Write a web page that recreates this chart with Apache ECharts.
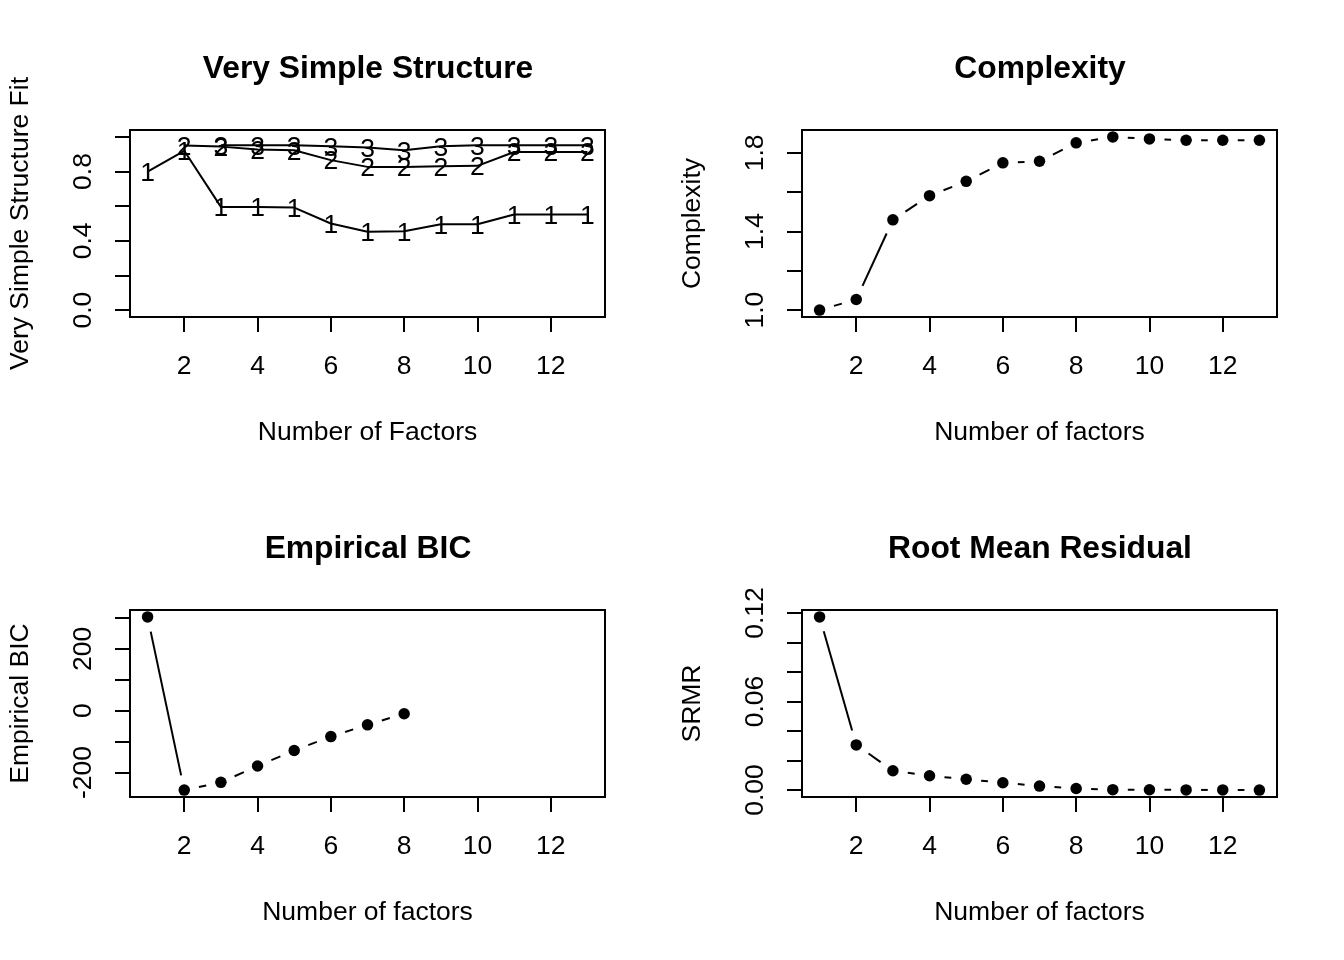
<!DOCTYPE html>
<html>
<head>
<meta charset="utf-8">
<script src="https://cdn.jsdelivr.net/npm/echarts@6/dist/echarts.min.js"></script>
<style>
  body { margin: 0; background: #fff; }
  #chart { width: 1344px; height: 960px; }
</style>
</head>
<body>
<div id="chart"></div>
<script>
// number of factors
var factors = [1, 2, 3, 4, 5, 6, 7, 8, 9, 10, 11, 12, 13];
var xTicks = [2, 4, 6, 8, 10, 12];

// very simple structure fit, complexity 1..3
var vss1 = [0.80, 0.92, 0.596, 0.596, 0.592, 0.50, 0.452, 0.455, 0.496, 0.496, 0.552, 0.552, 0.552];
var vss2 = [null, 0.95, 0.944, 0.927, 0.923, 0.866, 0.827, 0.827, 0.831, 0.833, 0.913, 0.913, 0.913];
var vss3 = [null, null, 0.952, 0.952, 0.952, 0.946, 0.939, 0.923, 0.946, 0.952, 0.952, 0.952, 0.952];
var vssTicks = [0, 0.2, 0.4, 0.6, 0.8, 1.0];
var vssLabels = [0, 0.4, 0.8];

// complexity
var complexity = [1.0, 1.054, 1.459, 1.582, 1.655, 1.749, 1.757, 1.851, 1.881, 1.871, 1.864, 1.864, 1.864];
var cxTicks = [1.0, 1.2, 1.4, 1.6, 1.8];
var cxLabels = [1.0, 1.4, 1.8];

// empirical BIC (only 8 factors)
var ebic = [303, -257, -232, -179, -129, -84, -46, -10];
var bicTicks = [-200, -100, 0, 100, 200, 300];
var bicLabels = [-200, 0, 200];

// root mean residual
var srmr = [0.1173, 0.0306, 0.0131, 0.0097, 0.0073, 0.0050, 0.0027, 0.0011, 0.0003, 0.0002, 0.0001, 0.0001, 0.0000];
var srmrTicks = [0, 0.02, 0.04, 0.06, 0.08, 0.10, 0.12];
var srmrLabels = [0, 0.06, 0.12];

var FONT = 'Liberation Sans, Arial, Helvetica, sans-serif';
var FS = 26.5;

// R style 4% padding of the data range
function pad(lo, hi) {
    var d = (hi - lo) * 0.04;
    return [lo - d, hi + d];
}
function rng(arr) {
    var v = arr.filter(function (a) { return a != null; });
    return pad(Math.min.apply(null, v), Math.max.apply(null, v));
}

var xr = pad(1, 13);
var grids = [
    { left: 130, top: 130 },
    { left: 802, top: 130 },
    { left: 130, top: 610 },
    { left: 802, top: 610 }
];

function xAxisFor(i, name) {
    return {
        type: 'value', gridIndex: i, min: xr[0], max: xr[1],
        name: name, nameLocation: 'middle', nameGap: 102,
        nameTextStyle: { fontFamily: FONT, fontSize: FS, color: '#000' },
        axisLine: { show: true, onZero: false, lineStyle: { color: '#000', width: 2 } },
        axisTick: { show: true, length: 15, customValues: xTicks, lineStyle: { color: '#000', width: 2 } },
        axisLabel: { customValues: xTicks, margin: 36, fontFamily: FONT, fontSize: FS, color: '#000' },
        splitLine: { show: false }
    };
}
function yAxisFor(i, name, r, ticks, labels, dig) {
    return {
        type: 'value', gridIndex: i, min: r[0], max: r[1],
        name: name, nameLocation: 'middle', nameGap: 96,
        nameTextStyle: { fontFamily: FONT, fontSize: FS, color: '#000' },
        axisLine: { show: true, onZero: false, lineStyle: { color: '#000', width: 2 } },
        axisTick: { show: true, length: 15, customValues: ticks, lineStyle: { color: '#000', width: 2 } },
        axisLabel: {
            customValues: labels, rotate: 90, margin: 33,
            fontFamily: FONT, fontSize: FS, color: '#000',
            formatter: function (v) { return dig == null ? String(Math.round(v)) : v.toFixed(dig); }
        },
        splitLine: { show: false }
    };
}

// segments with gaps at the points, like R type = "b"
function segData(ys) {
    var out = [];
    for (var i = 0; i < ys.length - 1; i++) {
        out.push([factors[i], ys[i], factors[i + 1], ys[i + 1]]);
    }
    return out;
}
function gapLines(i, ys) {
    return {
        type: 'custom', xAxisIndex: i, yAxisIndex: i,
        data: segData(ys),
        encode: { x: [0, 2], y: [1, 3] },
        renderItem: function (params, api) {
            var p0 = api.coord([api.value(0), api.value(1)]);
            var p1 = api.coord([api.value(2), api.value(3)]);
            var dx = p1[0] - p0[0], dy = p1[1] - p0[1];
            var len = Math.sqrt(dx * dx + dy * dy);
            var gap = 15;
            if (len <= 2 * gap) return null;
            var ux = dx / len, uy = dy / len;
            return {
                type: 'line',
                shape: { x1: p0[0] + ux * gap, y1: p0[1] + uy * gap, x2: p1[0] - ux * gap, y2: p1[1] - uy * gap },
                style: { stroke: '#000', lineWidth: 2 }
            };
        }
    };
}
function dots(i, ys) {
    return {
        type: 'scatter', xAxisIndex: i, yAxisIndex: i,
        symbol: 'circle', symbolSize: 11.5,
        itemStyle: { color: '#000', opacity: 1 },
        data: ys.map(function (v, k) { return [factors[k], v]; })
    };
}
function vssLine(ys, ch) {
    return {
        type: 'line', xAxisIndex: 0, yAxisIndex: 0,
        symbol: 'circle', symbolSize: 2, showSymbol: true,
        itemStyle: { color: 'rgba(0,0,0,0)' },
        lineStyle: { color: '#000', width: 2 },
        label: { show: true, position: 'inside', formatter: ch, color: '#000', fontFamily: FONT, fontSize: FS, offset: [0, 2] },
        data: ys.map(function (v, k) { return [factors[k], v]; })
    };
}

var titleStyle = { fontFamily: FONT, fontSize: 31.8, fontWeight: 'bold', color: '#000' };
function mkTitle(text, cx, top) {
    return { text: text, left: cx, top: top, textAlign: 'center', textStyle: titleStyle };
}

var chart = echarts.init(document.getElementById('chart'));
var option = {
    backgroundColor: '#fff',
    animation: false,
    title: [
        mkTitle('Very Simple Structure', 363, 48.5),
        mkTitle('Complexity', 1035, 48.5),
        mkTitle('Empirical BIC', 363, 528.5),
        mkTitle('Root Mean Residual', 1035, 528.5)
    ],
    grid: grids.map(function (g) {
        return { left: g.left, top: g.top, width: 475, height: 187, show: true, borderColor: '#000', borderWidth: 2, backgroundColor: 'transparent' };
    }),
    xAxis: [
        xAxisFor(0, 'Number of Factors'),
        xAxisFor(1, 'Number of factors'),
        xAxisFor(2, 'Number of factors'),
        xAxisFor(3, 'Number of factors')
    ],
    yAxis: [
        yAxisFor(0, 'Very Simple Structure Fit', pad(0, 1), vssTicks, vssLabels, 1),
        yAxisFor(1, 'Complexity', rng(complexity), cxTicks, cxLabels, 1),
        yAxisFor(2, 'Empirical BIC', rng(ebic), bicTicks, bicLabels, null),
        yAxisFor(3, 'SRMR', rng(srmr), srmrTicks, srmrLabels, 2)
    ],
    series: [
        vssLine(vss1, '1'),
        vssLine(vss2, '2'),
        vssLine(vss3, '3'),
        gapLines(1, complexity), dots(1, complexity),
        gapLines(2, ebic), dots(2, ebic),
        gapLines(3, srmr), dots(3, srmr)
    ]
};
chart.setOption(option);
</script>
</body>
</html>
